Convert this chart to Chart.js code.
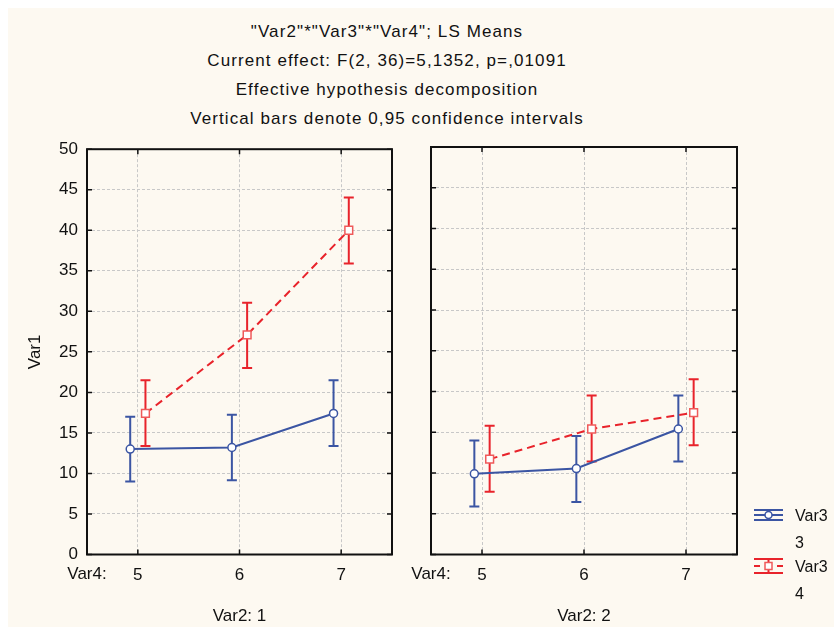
<!DOCTYPE html>
<html>
<head>
<meta charset="utf-8">
<script src="https://cdn.jsdelivr.net/npm/chart.js@4.4.1/dist/chart.umd.min.js"></script>
<style>
html,body{margin:0;padding:0;background:#ffffff;width:834px;height:628px;overflow:hidden;}
#bg{position:absolute;left:8px;top:8px;width:826px;height:619px;background:#fdf9f1;}
#title{position:absolute;left:0;top:17px;width:774px;text-align:center;font-family:"Liberation Sans",Arial,sans-serif;font-size:17px;letter-spacing:1.1px;line-height:29px;color:#111;}
canvas{position:absolute;}
</style>
</head>
<body>
<div id="bg"></div>
<div id="title"></div>
<canvas id="c1" width="400" height="498" style="left:0px;top:130px;"></canvas>
<canvas id="c2" width="434" height="498" style="left:400px;top:130px;"></canvas>
<script>
// ---------- data ----------
const titleLines = [
  '"Var2"*"Var3"*"Var4"; LS Means',
  'Current effect: F(2, 36)=5,1352, p=,01091',
  'Effective hypothesis decomposition',
  'Vertical bars denote 0,95 confidence intervals'
];
const yAxisTitle = 'Var1';
const xFactorName = 'Var4:';
const var4Levels = [5, 6, 7];
const yTickMin = 0;
const yTickMax = 50;
const yTickStep = 5;
const panelTitles = ['Var2: 1', 'Var2: 2'];
const seriesFactor = 'Var3';
const seriesLevels = ['3', '4'];

// Var2 = 1
const p1Var3_3Mean = [13.0, 13.2, 17.4];
const p1Var3_3Low  = [9.0, 9.15, 13.4];
const p1Var3_3High = [17.0, 17.25, 21.5];
const p1Var3_4Mean = [17.4, 27.1, 40.0];
const p1Var3_4Low  = [13.4, 23.0, 35.9];
const p1Var3_4High = [21.5, 31.05, 44.05];

// Var2 = 2
const p2Var3_3Mean = [9.9, 10.55, 15.4];
const p2Var3_3Low  = [5.9, 6.45, 11.4];
const p2Var3_3High = [14.0, 14.55, 19.5];
const p2Var3_4Mean = [11.7, 15.4, 17.4];
const p2Var3_4Low  = [7.7, 11.4, 13.4];
const p2Var3_4High = [15.8, 19.5, 21.5];

// ---------- styling ----------
const BLUE = '#3b55a3';
const RED = '#e8232b';
const RED_MARK = '#ef5a5a';
const TEXT = '#111111';
const FONT = 'Liberation Sans';
const AX_FONT = 17;
const JITTER = [-0.075, 0.075];

document.getElementById('title').innerHTML = titleLines.map(t => '<div>' + t.replace(/&/g,'&amp;').replace(/</g,'&lt;') + '</div>').join('');

function pts(means, k) {
  return var4Levels.map((lv, i) => ({x: lv + JITTER[k], y: means[i]}));
}

function makeDatasets(m3, l3, h3, m4, l4, h4) {
  return [
    {
      label: seriesFactor + ' ' + seriesLevels[0],
      data: pts(m3, 0), errLo: l3, errHi: h3,
      borderColor: BLUE, borderWidth: 2, tension: 0,
      pointStyle: 'circle', pointRadius: 4, pointBorderWidth: 1.5,
      pointBackgroundColor: '#ffffff', pointBorderColor: BLUE,
      legendMarker: 'circle'
    },
    {
      label: seriesFactor + ' ' + seriesLevels[1],
      data: pts(m4, 1), errLo: l4, errHi: h4,
      borderColor: RED, borderWidth: 2, borderDash: [8, 5], tension: 0,
      pointStyle: 'rect', pointRadius: 5.5, pointBorderWidth: 1.5,
      pointBackgroundColor: '#ffffff', pointBorderColor: RED_MARK,
      legendMarker: 'rect'
    }
  ];
}

const errorBarsPlugin = {
  id: 'errorBars',
  beforeDatasetsDraw(chart) {
    const ctx = chart.ctx, ys = chart.scales.y;
    chart.data.datasets.forEach((ds, i) => {
      const meta = chart.getDatasetMeta(i);
      ctx.save();
      ctx.strokeStyle = ds.borderColor;
      ctx.lineWidth = 2;
      ctx.setLineDash([]);
      meta.data.forEach((p, j) => {
        const yl = ys.getPixelForValue(ds.errLo[j]);
        const yh = ys.getPixelForValue(ds.errHi[j]);
        ctx.beginPath();
        ctx.moveTo(p.x, yl); ctx.lineTo(p.x, yh);
        ctx.moveTo(p.x - 5, yl); ctx.lineTo(p.x + 5, yl);
        ctx.moveTo(p.x - 5, yh); ctx.lineTo(p.x + 5, yh);
        ctx.stroke();
      });
      ctx.restore();
    });
  }
};

const framePlugin = {
  id: 'frame',
  afterDraw(chart, args, opts) {
    const ctx = chart.ctx, a = chart.chartArea;
    const xs = chart.scales.x, ys = chart.scales.y;
    ctx.save();
    ctx.strokeStyle = '#111111';
    ctx.lineWidth = 1.5;
    ctx.beginPath();
    ys.ticks.forEach(t => {
      const y = ys.getPixelForValue(t.value);
      ctx.moveTo(a.left, y); ctx.lineTo(a.left + 5, y);
      ctx.moveTo(a.right, y); ctx.lineTo(a.right - 5, y);
    });
    xs.ticks.forEach(t => {
      const x = xs.getPixelForValue(t.value);
      ctx.moveTo(x, a.top); ctx.lineTo(x, a.top + 5);
      ctx.moveTo(x, a.bottom); ctx.lineTo(x, a.bottom - 5);
    });
    ctx.stroke();
    ctx.lineWidth = 2;
    ctx.strokeRect(a.left, a.top, a.right - a.left, a.bottom - a.top);
    // factor name in front of the x tick labels
    ctx.fillStyle = TEXT;
    ctx.font = AX_FONT + 'px "' + FONT + '"';
    ctx.textAlign = 'center';
    ctx.textBaseline = 'middle';
    ctx.fillText(xFactorName, a.left, a.bottom + 19.5);
    // legend
    if (opts && opts.legend) {
      const x0 = a.right + 17, x1 = a.right + 46, xm = (x0 + x1) / 2;
      chart.data.datasets.forEach((ds, i) => {
        const yc = a.bottom - 39.5 + i * 51;
        const hh = i === 0 ? 5 : 7;
        ctx.strokeStyle = ds.borderColor;
        ctx.lineWidth = 2;
        ctx.setLineDash([]);
        ctx.beginPath();
        ctx.moveTo(x0, yc - hh); ctx.lineTo(x1, yc - hh);
        ctx.moveTo(x0, yc + hh); ctx.lineTo(x1, yc + hh);
        ctx.moveTo(xm, yc - hh); ctx.lineTo(xm, yc + hh);
        if (ds.borderDash) {
          ctx.moveTo(x0, yc); ctx.lineTo(x0 + 6, yc);
          ctx.moveTo(x1 - 6, yc); ctx.lineTo(x1, yc);
        } else {
          ctx.moveTo(x0, yc); ctx.lineTo(x1, yc);
        }
        ctx.stroke();
        ctx.lineWidth = 1.5;
        ctx.fillStyle = '#ffffff';
        ctx.strokeStyle = ds.pointBorderColor;
        ctx.beginPath();
        if (ds.legendMarker === 'circle') {
          ctx.arc(xm, yc, 3.5, 0, Math.PI * 2);
        } else {
          ctx.rect(xm - 3.5, yc - 3.5, 7, 7);
        }
        ctx.fill(); ctx.stroke();
        ctx.fillStyle = TEXT;
        ctx.textAlign = 'left';
        ctx.textBaseline = 'middle';
        ctx.font = '16px "' + FONT + '"';
        ctx.fillText(seriesFactor, a.right + 58, yc + 2);
        ctx.fillText(seriesLevels[i], a.right + 58, yc + 29);
      });
    }
    ctx.restore();
  }
};

function makeChart(canvasId, datasets, panelTitle, showY, padRight, yWidth, legend) {
  return new Chart(document.getElementById(canvasId), {
    type: 'line',
    data: { datasets: datasets },
    plugins: [errorBarsPlugin, framePlugin],
    options: {
      responsive: false,
      animation: false,
      layout: { padding: { top: 17, right: padRight, left: 0, bottom: 0 } },
      plugins: {
        legend: { display: false },
        title: { display: false },
        tooltip: { enabled: false },
        frame: { legend: legend }
      },
      scales: {
        x: {
          type: 'linear',
          min: var4Levels[0] - 0.5,
          max: var4Levels[var4Levels.length - 1] + 0.5,
          afterBuildTicks(scale) { scale.ticks = var4Levels.map(v => ({ value: v })); },
          afterFit(scale) { scale.height = 73.5; },
          grid: { color: '#c8c8c8', lineWidth: 1, drawTicks: false },
          border: { display: false, dash: [3, 2] },
          ticks: { color: TEXT, font: { family: FONT, size: AX_FONT }, padding: 10.5, callback: v => String(v) },
          title: { display: true, text: panelTitle, color: TEXT, font: { family: FONT, size: AX_FONT }, padding: { top: 0, bottom: 1.8 } }
        },
        y: {
          type: 'linear',
          min: yTickMin, max: yTickMax,
          afterFit(scale) { scale.width = yWidth; },
          grid: { color: '#c8c8c8', lineWidth: 1, drawTicks: false },
          border: { display: false, dash: [3, 2] },
          ticks: { display: showY, stepSize: yTickStep, color: TEXT, font: { family: FONT, size: AX_FONT }, padding: 9 },
          title: { display: showY, text: yAxisTitle, color: TEXT, font: { family: FONT, size: AX_FONT }, padding: { top: 24.8, bottom: 0 } }
        }
      }
    }
  });
}

makeChart('c1', makeDatasets(p1Var3_3Mean, p1Var3_3Low, p1Var3_3High, p1Var3_4Mean, p1Var3_4Low, p1Var3_4High), panelTitles[0], true, 8, 87, false);
makeChart('c2', makeDatasets(p2Var3_3Mean, p2Var3_3Low, p2Var3_3High, p2Var3_4Mean, p2Var3_4Low, p2Var3_4High), panelTitles[1], false, 97, 31, true);
</script>
</body>
</html>
